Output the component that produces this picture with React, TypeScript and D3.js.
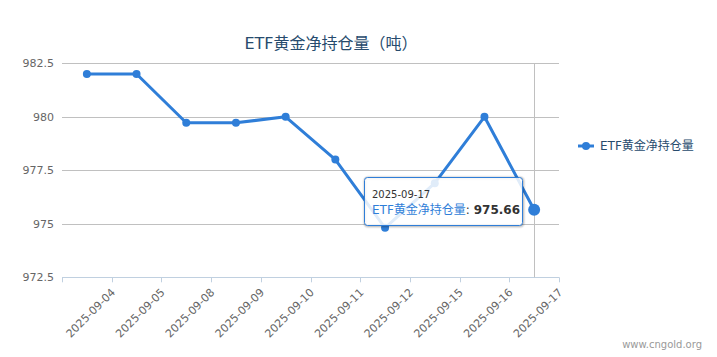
import React from "react";
import * as d3 from "d3";

const categories = [
  "2025-09-04", "2025-09-05", "2025-09-08", "2025-09-09", "2025-09-10",
  "2025-09-11", "2025-09-12", "2025-09-15", "2025-09-16", "2025-09-17",
];
const values = [982.0, 982.0, 979.72, 979.72, 980.0, 978.0, 974.81, 976.9, 980.0, 975.66];
const yTicks = [972.5, 975, 977.5, 980, 982.5];
const seriesName = "ETF黄金净持仓量";
const titleText = "ETF黄金净持仓量（吨）";
const hoverIndex = 9;

const W = 717, H = 357;
const left = 62, right = 559, top = 63.3, bottom = 277.3;
const color = "#2f7ed8";
const font = '"DejaVu Sans", "Noto Sans CJK SC", sans-serif';

export default function App() {
  const x = d3.scaleBand<string>().domain(categories).range([left, right]).padding(0);
  const y = d3.scaleLinear().domain([972.5, 982.5]).range([bottom, top]);
  const cx = (c: string) => (x(c) as number) + x.bandwidth() / 2;
  const line = d3.line<number>().x((_, i) => cx(categories[i])).y((v) => y(v));
  const tickXs = categories.map((c) => x(c) as number).concat([right]);
  const hx = cx(categories[hoverIndex]);
  const hy = y(values[hoverIndex]);
  const fmt = d3.format("");

  const tipX = 364, tipY = 177, tipW = 158, tipH = 48;

  return (
    <svg width={W} height={H} style={{ position: "absolute", left: 0, top: 0, fontFamily: font }}>
      <rect x={0} y={0} width={W} height={H} fill="#fff" />
      <text x={331} y={49} textAnchor="middle" fontSize={16} fill="#274b6d">{titleText}</text>
      {yTicks.map((t) => (
        <g key={t}>
          {t !== 972.5 && (
            <line x1={left} x2={right} y1={Math.round(y(t)) + 0.5} y2={Math.round(y(t)) + 0.5} stroke="#c0c0c0" strokeWidth={1} />
          )}
          <text x={54} y={y(t) + 4} textAnchor="end" fontSize={11} fill="#666">{fmt(t)}</text>
        </g>
      ))}
      <line x1={left} x2={right} y1={Math.round(bottom) + 0.5} y2={Math.round(bottom) + 0.5} stroke="#c0d0e0" strokeWidth={1} />
      {tickXs.map((tx, i) => (
        <line key={i} x1={Math.round(tx) + 0.5} x2={Math.round(tx) + 0.5} y1={bottom} y2={bottom + 5} stroke="#c0d0e0" strokeWidth={1} />
      ))}
      {categories.map((c) => {
        const lx = cx(c) + 29, ly = 293;
        return (
          <text key={c} x={lx} y={ly} textAnchor="end" fontSize={11} fill="#666" transform={`rotate(-45 ${lx} ${ly})`}>{c}</text>
        );
      })}
      <line x1={Math.round(hx) + 0.5} x2={Math.round(hx) + 0.5} y1={top} y2={bottom} stroke="#c0c0c0" strokeWidth={1} />
      <path d={line(values) || ""} fill="none" stroke={color} strokeWidth={3} strokeLinejoin="round" strokeLinecap="round" />
      {values.map((v, i) => (
        <circle key={i} cx={cx(categories[i])} cy={y(v)} r={i === hoverIndex ? 6 : 4} fill={color} />
      ))}
      <g>
        <line x1={578} x2={594} y1={146} y2={146} stroke={color} strokeWidth={3} />
        <circle cx={586} cy={146} r={4} fill={color} />
        <text x={600} y={150} fontSize={12} fill="#274b6d">{seriesName}</text>
      </g>
      <g>
        <rect x={tipX + 1} y={tipY + 1} width={tipW} height={tipH} rx={3} fill="none" stroke="#000" strokeOpacity={0.05} strokeWidth={5} />
        <rect x={tipX + 1} y={tipY + 1} width={tipW} height={tipH} rx={3} fill="none" stroke="#000" strokeOpacity={0.1} strokeWidth={3} />
        <rect x={tipX + 1} y={tipY + 1} width={tipW} height={tipH} rx={3} fill="none" stroke="#000" strokeOpacity={0.15} strokeWidth={1} />
        <rect x={tipX + 0.5} y={tipY + 0.5} width={tipW} height={tipH} rx={3} fill="rgba(255,255,255,0.85)" stroke={color} strokeWidth={1} />
        <text x={tipX + 8} y={tipY + 21} fontSize={10} fill="#333">{categories[hoverIndex]}</text>
        <text x={tipX + 8} y={tipY + 37} fontSize={12} fill="#333">
          <tspan fill={color}>{seriesName}</tspan>
          <tspan>: </tspan>
          <tspan fontWeight="bold">{values[hoverIndex].toFixed(2)}</tspan>
        </text>
      </g>
      <text x={702} y={348} textAnchor="end" fontSize={10} fill="#999">www.cngold.org</text>
    </svg>
  );
}
